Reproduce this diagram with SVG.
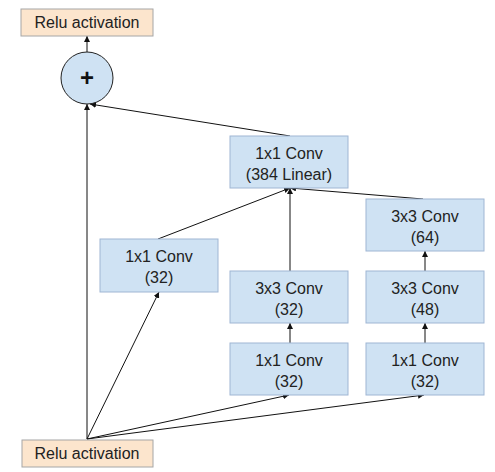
<svg xmlns="http://www.w3.org/2000/svg" width="495" height="472" viewBox="0 0 495 472">
<style>
.conv{fill:#cfe2f3;stroke:#9fb6d3;stroke-width:1}
.relu{fill:#fce5cd;stroke:#a6a6a6;stroke-width:1}
.t{font-family:"Liberation Sans",Arial,sans-serif;font-size:16px;fill:#222;text-anchor:middle}
.c{stroke:#111;stroke-width:1;fill:none;marker-end:url(#ah)}
</style>
<defs>
<marker id="ah" viewBox="0 0 10 10" refX="10" refY="5" markerWidth="6" markerHeight="6" markerUnits="userSpaceOnUse" orient="auto">
<path d="M0,0 L10,5 L0,10 z" fill="#111"/>
</marker>
</defs>
<g id="connectors">
<line class="c" x1="87" y1="52" x2="87" y2="36"/>
<line class="c" x1="87" y1="439" x2="87" y2="104"/>
<line class="c" x1="290" y1="136" x2="90" y2="104"/>
<line class="c" x1="87" y1="439" x2="159" y2="292"/>
<line class="c" x1="87" y1="439" x2="289" y2="395"/>
<line class="c" x1="87" y1="439" x2="424" y2="395"/>
<line class="c" x1="290" y1="343" x2="290" y2="323"/>
<line class="c" x1="425" y1="343" x2="425" y2="323"/>
<line class="c" x1="425" y1="271" x2="425" y2="251"/>
<line class="c" x1="290" y1="271" x2="290" y2="188"/>
<line class="c" x1="158" y1="239" x2="290" y2="188"/>
<line class="c" x1="423" y1="199" x2="290" y2="188"/>
</g>
<g id="relu_top">
<rect class="relu" x="21" y="9" width="132" height="27"/>
<text class="t" x="87" y="28">Relu activation</text>
</g>
<g id="add">
<circle cx="87" cy="78" r="26" fill="#cfe2f3" stroke="#222" stroke-width="1"/>
<text x="87" y="86" font-family="Liberation Sans,Arial,sans-serif" font-size="24" font-weight="bold" text-anchor="middle" fill="#111">+</text>
</g>
<g id="conv384">
<rect class="conv" x="230" y="136" width="118" height="52"/>
<text class="t" x="289" y="159">1x1 Conv</text>
<text class="t" x="289" y="180">(384 Linear)</text>
</g>
<g id="conv1x1_a">
<rect class="conv" x="100" y="239" width="118" height="53"/>
<text class="t" x="159" y="262">1x1 Conv</text>
<text class="t" x="159" y="283">(32)</text>
</g>
<g id="conv3x3_b">
<rect class="conv" x="230" y="271" width="118" height="52"/>
<text class="t" x="289" y="294">3x3 Conv</text>
<text class="t" x="289" y="315">(32)</text>
</g>
<g id="conv1x1_b">
<rect class="conv" x="230" y="343" width="118" height="52"/>
<text class="t" x="289" y="366">1x1 Conv</text>
<text class="t" x="289" y="387">(32)</text>
</g>
<g id="conv3x3_c2">
<rect class="conv" x="366" y="199" width="118" height="52"/>
<text class="t" x="425" y="222">3x3 Conv</text>
<text class="t" x="425" y="243">(64)</text>
</g>
<g id="conv3x3_c1">
<rect class="conv" x="366" y="271" width="118" height="52"/>
<text class="t" x="425" y="294">3x3 Conv</text>
<text class="t" x="425" y="315">(48)</text>
</g>
<g id="conv1x1_c">
<rect class="conv" x="366" y="343" width="118" height="52"/>
<text class="t" x="425" y="366">1x1 Conv</text>
<text class="t" x="425" y="387">(32)</text>
</g>
<g id="relu_bottom">
<rect class="relu" x="22" y="440" width="131" height="27"/>
<text class="t" x="87" y="459">Relu activation</text>
</g>
</svg>
